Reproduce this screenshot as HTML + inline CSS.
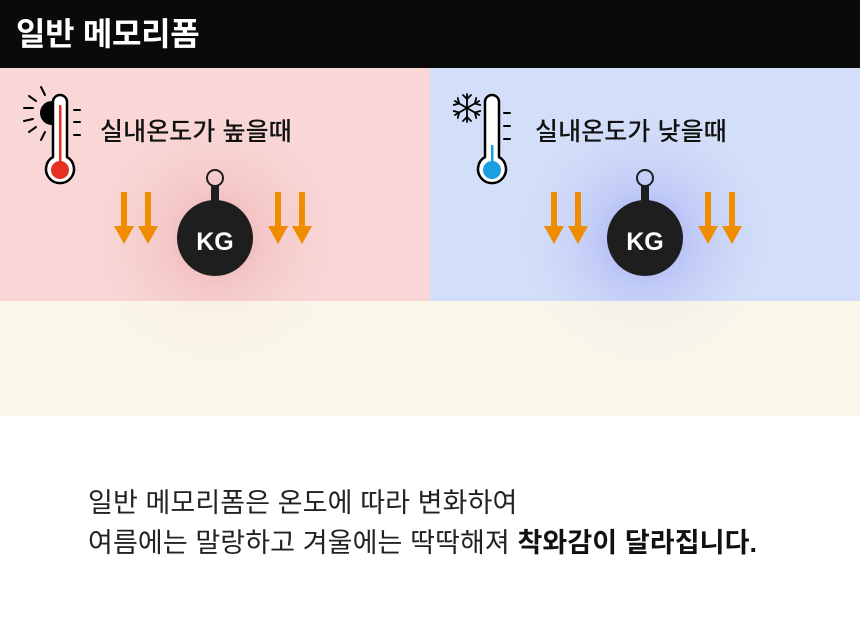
<!DOCTYPE html>
<html><head><meta charset="utf-8"><style>
*{margin:0;padding:0}
body{width:860px;height:627px;background:#fff;position:relative;overflow:hidden;font-family:"Liberation Sans","Noto Sans CJK KR",sans-serif}
.hdr{position:absolute;left:0;top:0;width:860px;height:68px;background:#0a0a0a;color:#fff;font-weight:700;font-size:32px;line-height:68px;padding-left:16px;box-sizing:border-box;letter-spacing:-0.3px}
.t{position:absolute;font-size:25px;color:#111;letter-spacing:0.1px;font-weight:500}
.b{position:absolute;left:88px;font-size:27px;color:#222;letter-spacing:0.1px;line-height:40px}
</style></head><body>
<div class="hdr">일반 메모리폼</div>
<svg width="860" height="627" style="position:absolute;left:0;top:0;z-index:0" viewBox="0 0 860 627">
<defs>
<radialGradient id="gr" cx="215" cy="238" r="125" gradientUnits="userSpaceOnUse">
<stop offset="0" stop-color="#e89a9e" stop-opacity="0.8"/><stop offset="0.4" stop-color="#eeb0b3" stop-opacity="0.45"/><stop offset="1" stop-color="#f4c8c8" stop-opacity="0"/></radialGradient>
<radialGradient id="gb" cx="645" cy="238" r="125" gradientUnits="userSpaceOnUse">
<stop offset="0" stop-color="#8c94f8" stop-opacity="0.9"/><stop offset="0.4" stop-color="#aab3f5" stop-opacity="0.5"/><stop offset="1" stop-color="#c4cff6" stop-opacity="0"/></radialGradient>
</defs>
<rect x="0" y="68" width="430" height="233" fill="#f8d7d6"/>
<rect x="430" y="68" width="430" height="233" fill="#d3def8"/>
<rect x="0" y="301" width="860" height="115" fill="#faf5ea"/>
<rect x="0" y="68" width="430" height="348" fill="url(#gr)" opacity="0.9"/>
<rect x="430" y="68" width="430" height="348" fill="url(#gb)" opacity="0.9"/>
<rect x="0" y="301" width="860" height="115" fill="#faf5ea" opacity="0.75"/>
<g stroke="#000" stroke-width="2" stroke-linecap="round">
<line x1="41" y1="87" x2="45" y2="95"/><line x1="29" y1="96" x2="36" y2="101"/><line x1="24" y1="108" x2="33" y2="108"/><line x1="24" y1="121" x2="33" y2="119"/><line x1="29" y1="132" x2="36" y2="127"/><line x1="41" y1="140" x2="45" y2="132"/>
<line x1="74" y1="110" x2="80" y2="110"/><line x1="74" y1="122" x2="80" y2="122"/><line x1="74" y1="135" x2="80" y2="135"/>
</g>
<path d="M52 101 a12 12 0 0 0 0 24 z" fill="#000"/>
<path d="M53 102 a7 7 0 0 1 14 0 V157 a14 14 0 1 1 -14 0 Z" fill="#fff" stroke="#000" stroke-width="2.5"/>
<rect x="59" y="105" width="2.5" height="60" fill="#e53023"/>
<circle cx="60" cy="170" r="9" fill="#e53023"/>
<g stroke="#000" stroke-width="2" stroke-linecap="round">
<line x1="504" y1="113" x2="510" y2="113"/><line x1="504" y1="126" x2="510" y2="126"/><line x1="504" y1="139" x2="510" y2="139"/>
</g>
<g stroke="#000" stroke-width="1.8" stroke-linecap="round" transform="translate(467,108)">
<g id="arm"><line x1="0" y1="0" x2="0" y2="-14"/><line x1="0" y1="-9" x2="-4" y2="-13"/><line x1="0" y1="-9" x2="4" y2="-13"/></g>
<use href="#arm" transform="rotate(60)"/><use href="#arm" transform="rotate(120)"/><use href="#arm" transform="rotate(180)"/><use href="#arm" transform="rotate(240)"/><use href="#arm" transform="rotate(300)"/>
</g>
<path d="M485 102 a7 7 0 0 1 14 0 V157 a14 14 0 1 1 -14 0 Z" fill="#fff" stroke="#000" stroke-width="2.5"/>
<rect x="491" y="145" width="2.5" height="20" fill="#1aa0e0"/>
<circle cx="492" cy="170" r="9" fill="#1aa0e0"/>
<g id="w">
<circle cx="215" cy="178" r="8" fill="none" stroke="#1e1e1e" stroke-width="2"/>
<rect x="211" y="186" width="8" height="16" fill="#1e1e1e"/>
<circle cx="215" cy="238" r="38" fill="#1e1e1e"/>
<path d="M121 192h6v34h7l-10 18l-10 -18h7z M145 192h6v34h7l-10 18l-10 -18h7z M275 192h6v34h7l-10 18l-10 -18h7z M299 192h6v34h7l-10 18l-10 -18h7z" fill="#f08c00"/>
</g>
<use href="#w" x="430"/>
<text x="215" y="250" text-anchor="middle" fill="#fff" font-size="25" font-weight="700" font-family="Liberation Sans,sans-serif">KG</text>
<text x="645" y="250" text-anchor="middle" fill="#fff" font-size="25" font-weight="700" font-family="Liberation Sans,sans-serif">KG</text>
</svg>
<div class="t" style="left:100px;top:112px">실내온도가 높을때</div>
<div class="t" style="left:535px;top:112px">실내온도가 낮을때</div>
<div class="b" style="top:483px">일반 메모리폼은 온도에 따라 변화하여</div>
<div class="b" style="top:523px">여름에는 말랑하고 겨울에는 딱딱해져 <b style="color:#111">착와감이 달라집니다.</b></div>
</body></html>
